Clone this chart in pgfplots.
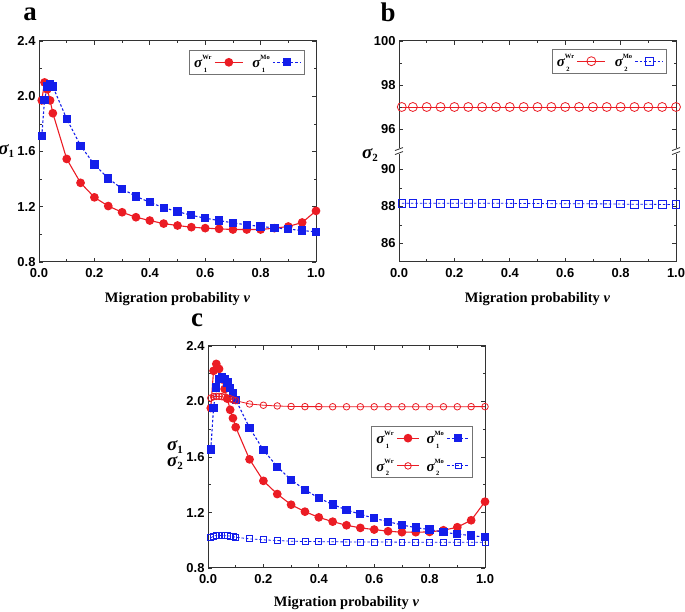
\documentclass[border=0pt]{standalone}
\usepackage{fontspec}
\setmainfont{Liberation Serif}
\newfontfamily\arialf{Liberation Sans}
\usepackage{pgfplots}
\pgfplotsset{compat=1.18}
\usetikzlibrary{calc}
\definecolor{mred}{RGB}{235,28,36}
\definecolor{mblue}{RGB}{20,30,235}
\newcommand{\legsig}[2]{{\fontsize{15}{15}\selectfont\bfseries\itshape σ}\makebox[10bp][l]{\rlap{\raisebox{8bp}{\fontsize{6.5}{6.5}\selectfont\bfseries #1}}\raisebox{-4.5bp}{\hspace{1.5bp}\fontsize{6.5}{6.5}\selectfont\bfseries #2}}}
\newcommand{\axsig}[1]{{\fontsize{19}{19}\selectfont\bfseries\itshape σ}\raisebox{-3bp}{\fontsize{11}{11}\selectfont\bfseries #1}}
\pgfplotsset{
  panel/.style={
    width=277bp, height=221bp, scale only axis, anchor=south west,
    xmin=0, xmax=1, xtick={0,0.2,0.4,0.6,0.8,1.0}, minor x tick num=1,
    tick align=inside, major tick length=4bp, minor tick length=2.5bp,
    every tick/.style={black!80, line width=0.7bp},
    axis line style={black!80, line width=1bp},
    tick label style={font=\arialf\bfseries\fontsize{13}{13}\selectfont},
    xticklabel style={yshift=-2.5bp},
    /pgf/number format/assume math mode=true,
    /pgf/number format/fixed, /pgf/number format/fixed zerofill, /pgf/number format/precision=1,
    xlabel={\bfseries\fontsize{14.5}{15}\selectfont Migration probability \textit{v}},
    xlabel style={at={(axis description cs:0.5,-0.17)}, anchor=center, inner sep=1bp},
    ylabel style={rotate=-90, anchor=center, align=center},
    legend plot pos=right,
    legend image code/.code={\draw[mark repeat=2,mark phase=2] plot coordinates {(0bp,0bp) (14bp,0bp) (28bp,0bp)};},
    legend style={draw=black!55, line width=0.8bp, fill=white, inner sep=3bp,
      /tikz/every even column/.append style={column sep=7bp}, row sep=2bp},
    legend cell align=left,
  },
  wr1/.style={mred, line width=1.1bp, mark=*, mark size=3.8, mark options={solid, draw=mred, fill=mred}},
  mo1/.style={mblue, line width=1.1bp, dash pattern=on 2.5bp off 2bp, mark=square*, mark size=3.6, mark options={solid, draw=mblue, fill=mblue}},
  wr2/.style={mred, line width=0.8bp, mark=o, mark size=#1, mark options={solid, draw=mred}},
  mo2/.style={mblue, line width=0.8bp, dash pattern=on 2.5bp off 2bp, mark=square, mark size=#1, mark options={solid, draw=mblue}},
}
\pgfplotstableread{
x y
0.01 1.97
0.02 2.10
0.03 2.05
0.04 1.97
0.05 1.877
0.10 1.546
0.15 1.373
0.20 1.268
0.25 1.205
0.30 1.160
0.35 1.124
0.40 1.100
0.45 1.078
0.50 1.064
0.55 1.052
0.60 1.045
0.65 1.040
0.70 1.035
0.75 1.035
0.80 1.035
0.85 1.045
0.90 1.057
0.95 1.086
1.00 1.170
}\aWr
\pgfplotstableread{
x y
0.01 1.710
0.02 1.975
0.03 2.070
0.04 2.086
0.05 2.070
0.10 1.836
0.15 1.642
0.20 1.505
0.25 1.405
0.30 1.330
0.35 1.275
0.40 1.232
0.45 1.193
0.50 1.165
0.55 1.138
0.60 1.117
0.65 1.100
0.70 1.083
0.75 1.069
0.80 1.057
0.85 1.047
0.90 1.038
0.95 1.028
1.00 1.018
}\aMo
\pgfplotstableread{
x y
0.01 97.0
0.05 97.0
0.10 97.0
0.15 97.0
0.20 97.0
0.25 97.0
0.30 97.0
0.35 97.0
0.40 97.0
0.45 97.0
0.50 97.0
0.55 97.0
0.60 97.0
0.65 97.0
0.70 97.0
0.75 97.0
0.80 97.0
0.85 97.0
0.90 97.0
0.95 97.0
1.00 97.0
}\bWr
\pgfplotstableread{
x y
0.01 88.17
0.05 88.17
0.10 88.17
0.15 88.17
0.20 88.17
0.25 88.17
0.30 88.17
0.35 88.17
0.40 88.17
0.45 88.16
0.50 88.16
0.55 88.15
0.60 88.15
0.65 88.15
0.70 88.14
0.75 88.14
0.80 88.13
0.85 88.12
0.90 88.12
0.95 88.11
1.00 88.11
}\bMo
\pgfplotstableread{
x y
0.01 1.953
0.02 2.221
0.03 2.271
0.04 2.235
0.05 2.160
0.06 2.090
0.07 2.020
0.08 1.940
0.09 1.880
0.10 1.815
0.15 1.583
0.20 1.428
0.25 1.333
0.30 1.256
0.35 1.206
0.40 1.165
0.45 1.134
0.50 1.108
0.55 1.089
0.60 1.077
0.65 1.065
0.70 1.058
0.75 1.058
0.80 1.060
0.85 1.072
0.90 1.094
0.95 1.144
1.00 1.278
}\cWra
\pgfplotstableread{
x y
0.01 1.655
0.02 1.953
0.03 2.100
0.04 2.160
0.05 2.175
0.06 2.163
0.07 2.137
0.08 2.097
0.09 2.060
0.10 2.013
0.15 1.810
0.20 1.650
0.25 1.530
0.30 1.435
0.35 1.364
0.40 1.304
0.45 1.258
0.50 1.218
0.55 1.187
0.60 1.158
0.65 1.134
0.70 1.110
0.75 1.091
0.80 1.077
0.85 1.058
0.90 1.044
0.95 1.034
1.00 1.022
}\cMoa
\pgfplotstableread{
x y
0.01 2.025
0.02 2.035
0.03 2.037
0.04 2.037
0.05 2.035
0.06 2.030
0.07 2.025
0.08 2.020
0.09 2.012
0.10 2.006
0.15 1.982
0.20 1.973
0.25 1.968
0.30 1.964
0.35 1.963
0.40 1.963
0.45 1.962
0.50 1.962
0.55 1.962
0.60 1.962
0.65 1.962
0.70 1.962
0.75 1.962
0.80 1.962
0.85 1.962
0.90 1.962
0.95 1.963
1.00 1.963
}\cWrb
\pgfplotstableread{
x y
0.01 1.017
0.02 1.030
0.03 1.034
0.04 1.034
0.05 1.034
0.06 1.033
0.07 1.032
0.08 1.030
0.09 1.026
0.10 1.022
0.15 1.010
0.20 1.003
0.25 0.998
0.30 0.993
0.35 0.991
0.40 0.990
0.45 0.989
0.50 0.988
0.55 0.988
0.60 0.987
0.65 0.987
0.70 0.986
0.75 0.986
0.80 0.986
0.85 0.986
0.90 0.985
0.95 0.985
1.00 0.985
}\cMob
\begin{document}
\begin{tikzpicture}[x=1bp,y=1bp]
\useasboundingbox (0,0) rectangle (685,612);
\node[font=\bfseries\fontsize{27}{27}\selectfont, anchor=base, inner sep=0pt] at (30,591) {a};
\node[font=\bfseries\fontsize{27}{27}\selectfont, anchor=base, inner sep=0pt] at (388,590) {b};
\node[font=\bfseries\fontsize{27}{27}\selectfont, anchor=base, inner sep=0pt] at (197,285) {c};
% panel a
\begin{axis}[panel, at={(39bp,350bp)},
  ymin=0.8, ymax=2.4, ytick={0.8,1.2,1.6,2.0,2.4}, minor y tick num=1,
  ylabel={\axsig{1}}, ylabel style={at={(axis description cs:-0.118,0.50)}},
  legend columns=2, legend style={at={(0.960,0.959)}, anchor=north east}]
\addplot[wr1] table {\aWr}; \addlegendentry{\legsig{Wr}{1}}
\addplot[mo1] table {\aMo}; \addlegendentry{\legsig{Mo}{1}}
\end{axis}
% panel b
\begin{axis}[panel, at={(399bp,350bp)}, clip mode=individual,
  ymin=85, ymax=100,
  y coord trafo/.code={\pgfmathparse{ifthenelse(#1>93,111+22*(#1-95),18.5*(#1-85))}},
  ytick={86,88,90,96,98,100}, yticklabels={86,88,90,96,98,100},
  minor ytick={87,89,97,99},
  ylabel={\axsig{2}}, ylabel style={at={(axis description cs:-0.105,0.484)}},
  legend columns=2, legend style={at={(0.9675,0.964)}, anchor=north east}]
\addplot[wr2=4.5] table {\bWr}; \addlegendentry{\legsig{Wr}{2}}
\addplot[mo2=3.8] table {\bMo}; \addlegendentry{\legsig{Mo}{2}}
\fill[white] ($(rel axis cs:0,0.502)+(-1.5bp,-3bp)$) rectangle ($(rel axis cs:0,0.502)+(1.5bp,3bp)$);
\draw[black!80, line width=0.8bp] ($(rel axis cs:0,0.502)+(-4bp,-3.5bp)$) -- ($(rel axis cs:0,0.502)+(4bp,-0.5bp)$);
\draw[black!80, line width=0.8bp] ($(rel axis cs:0,0.502)+(-4bp,0.5bp)$) -- ($(rel axis cs:0,0.502)+(4bp,3.5bp)$);
\fill[white] ($(rel axis cs:1,0.502)+(-1.5bp,-3bp)$) rectangle ($(rel axis cs:1,0.502)+(1.5bp,3bp)$);
\draw[black!80, line width=0.8bp] ($(rel axis cs:1,0.502)+(-4bp,-3.5bp)$) -- ($(rel axis cs:1,0.502)+(4bp,-0.5bp)$);
\draw[black!80, line width=0.8bp] ($(rel axis cs:1,0.502)+(-4bp,0.5bp)$) -- ($(rel axis cs:1,0.502)+(4bp,3.5bp)$);
\end{axis}
% panel c
\begin{axis}[panel, at={(208bp,44bp)}, height=222bp,
  ymin=0.8, ymax=2.4, ytick={0.8,1.2,1.6,2.0,2.4}, minor y tick num=1,
  xlabel style={at={(axis description cs:0.5,-0.158)}},
  ylabel={\axsig{1}\\[2bp]\axsig{2}}, ylabel style={at={(axis description cs:-0.119,0.509)}},
  legend image code/.code={\draw[mark repeat=2,mark phase=2] plot coordinates {(0bp,0bp) (11bp,0bp) (22bp,0bp)};},
  legend columns=2, legend style={at={(0.957,0.640)}, anchor=north east, row sep=10bp, inner sep=3bp,
    /tikz/every even column/.append style={column sep=5bp}}]
\addplot[wr1] table {\cWra}; \addlegendentry{\legsig{Wr}{1}}
\addplot[mo1] table {\cMoa}; \addlegendentry{\legsig{Mo}{1}}
\addplot[wr2=3.3] table {\cWrb}; \addlegendentry{\legsig{Wr}{2}}
\addplot[mo2=3.0] table {\cMob}; \addlegendentry{\legsig{Mo}{2}}
\end{axis}
\end{tikzpicture}
\end{document}
